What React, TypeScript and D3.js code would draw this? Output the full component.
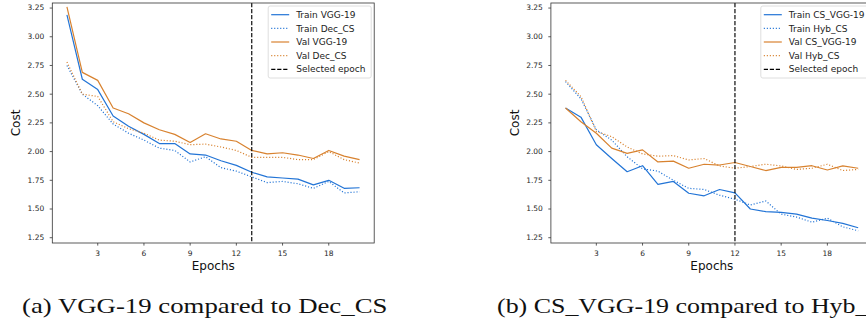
import React from 'react';
import * as d3 from 'd3';

// epochs 1..20
const epochs = [1, 2, 3, 4, 5, 6, 7, 8, 9, 10, 11, 12, 13, 14, 15, 16, 17, 18, 19, 20];
const xTicks = [3, 6, 9, 12, 15, 18];
const yTicks = [1.25, 1.5, 1.75, 2.0, 2.25, 2.5, 2.75, 3.0, 3.25];

// (a) VGG-19 vs Dec_CS
const trainVgg = [3.19, 2.63, 2.54, 2.31, 2.22, 2.15, 2.07, 2.07, 1.98, 1.97, 1.92, 1.88, 1.82, 1.78, 1.77, 1.76, 1.71, 1.75, 1.68, 1.685];
const trainDec = [2.75, 2.5, 2.4, 2.24, 2.16, 2.1, 2.03, 2.01, 1.91, 1.955, 1.86, 1.83, 1.78, 1.73, 1.74, 1.72, 1.68, 1.74, 1.64, 1.65];
const valVgg = [3.26, 2.69, 2.62, 2.38, 2.33, 2.25, 2.19, 2.15, 2.08, 2.155, 2.11, 2.09, 2.01, 1.98, 1.99, 1.97, 1.94, 2.01, 1.96, 1.93];
const valDec = [2.78, 2.5, 2.48, 2.26, 2.2, 2.16, 2.1, 2.09, 2.06, 2.065, 2.04, 2.01, 1.95, 1.95, 1.95, 1.93, 1.93, 2.0, 1.93, 1.9];

// (b) CS_VGG-19 vs Hyb_CS
const trainCsVgg = [2.38, 2.3, 2.06, 1.94, 1.825, 1.877, 1.715, 1.74, 1.637, 1.615, 1.67, 1.64, 1.5, 1.477, 1.47, 1.455, 1.42, 1.4, 1.375, 1.337];
const trainHyb = [2.61, 2.46, 2.19, 2.1, 1.955, 1.85, 1.83, 1.75, 1.68, 1.67, 1.62, 1.585, 1.535, 1.57, 1.455, 1.43, 1.385, 1.42, 1.345, 1.31];
const valCsVgg = [2.38, 2.26, 2.16, 2.03, 1.985, 2.015, 1.91, 1.917, 1.855, 1.89, 1.883, 1.905, 1.87, 1.835, 1.863, 1.863, 1.877, 1.84, 1.875, 1.855];
const valHyb = [2.62, 2.48, 2.175, 2.13, 2.04, 1.98, 1.96, 1.965, 1.927, 1.94, 1.875, 1.855, 1.87, 1.89, 1.875, 1.845, 1.855, 1.89, 1.835, 1.845];

const BLUE = '#2274d6';
const ORANGE = '#d8822f';
const DOT = '1.1,1.9';
const DASH = '4.2,1.8';

const sans = 'DejaVu Sans, sans-serif';

const yScale = d3.scaleLinear().domain([1.204, 3.294]).range([243, 3]);

type Series = { label: string; values: number[]; color: string; dash?: string };

const Panel = ({ id, x0, series, selected, caption, captionX, legendWidth }: {
  id: string; x0: number; series: Series[]; selected: number; caption: string; captionX: number; legendWidth: number;
}) => {
  const x = d3.scaleLinear().domain([0.05, 20.95]).range([x0, x0 + 321.9]);
  const [left, right] = x.range();
  const [bottom, top] = yScale.range();
  const line = d3.line<number>()
    .x((_, i) => x(epochs[i]))
    .y(d => yScale(d));

  const legendItems = [
    ...series,
    { label: 'Selected epoch', values: [], color: '#000', dash: DASH },
  ];
  const lgRight = right - 3;
  const lgLeft = lgRight - legendWidth;
  const rowY = (i: number) => 14.7 + i * 13.65;

  return (
    <g>
      <defs>
        <clipPath id={`clip-${id}`}>
          <rect x={left} y={top} width={right - left} height={bottom - top} />
        </clipPath>
      </defs>
      <g clipPath={`url(#clip-${id})`}>
        {series.map(s => (
          <path key={s.label} d={line(s.values) || ''} fill="none" stroke={s.color}
            strokeWidth={1.2} strokeDasharray={s.dash} strokeLinejoin="round" />
        ))}
        <line x1={x(selected)} x2={x(selected)} y1={top} y2={bottom}
          stroke="#000" strokeWidth={1.15} strokeDasharray={DASH} />
      </g>
      {/* spines */}
      <rect x={left} y={top} width={right - left} height={bottom - top}
        fill="none" stroke="#333" strokeWidth={0.8} />
      {/* x ticks */}
      {xTicks.map(t => (
        <g key={t} transform={`translate(${x(t)},${bottom})`}>
          <line y2={2.6} stroke="#333" strokeWidth={0.8} />
          <text y={13} textAnchor="middle" fontFamily={sans} fontSize={7.5} fill="#262626">{t}</text>
        </g>
      ))}
      {/* y ticks */}
      {yTicks.map(t => (
        <g key={t} transform={`translate(${left},${yScale(t)})`}>
          <line x2={-2.6} stroke="#333" strokeWidth={0.8} />
          <text x={-8} dy="0.32em" textAnchor="end" fontFamily={sans} fontSize={7.5} fill="#262626">{t.toFixed(2)}</text>
        </g>
      ))}
      <text x={(left + right) / 2} y={270} textAnchor="middle" fontFamily={sans} fontSize={12} fill="#111">Epochs</text>
      <text transform={`translate(${left - 32},${(top + bottom) / 2}) rotate(-90)`} textAnchor="middle"
        fontFamily={sans} fontSize={12} fill="#111">Cost</text>
      {/* legend */}
      <rect x={lgLeft} y={6} width={legendWidth} height={72} rx={2} fill="#fff" fillOpacity={0.8}
        stroke="#d6d6d6" strokeWidth={0.8} />
      {legendItems.map((s, i) => (
        <g key={s.label}>
          <line x1={lgLeft + 3} x2={lgLeft + 21} y1={rowY(i)} y2={rowY(i)} stroke={s.color}
            strokeWidth={1.2} strokeDasharray={s.dash} />
          <text x={lgLeft + 28} y={rowY(i)} dy="0.35em" fontFamily={sans} fontSize={9} fill="#222">{s.label}</text>
        </g>
      ))}
      <text x={captionX} y={312.7} fontFamily="Liberation Serif, serif" fontSize={22} fill="#111"
        textLength={caption.length * 12.6} lengthAdjust="spacingAndGlyphs">{caption}</text>
    </g>
  );
};

const App = () => (
  <svg width={866} height={324} style={{ position: 'absolute', left: 0, top: 0, background: '#fff' }}>
    <Panel id="a" x0={52.3} selected={13} captionX={22} legendWidth={103}
      caption="(a) VGG-19 compared to Dec_CS"
      series={[
        { label: 'Train VGG-19', values: trainVgg, color: BLUE },
        { label: 'Train Dec_CS', values: trainDec, color: BLUE, dash: DOT },
        { label: 'Val VGG-19', values: valVgg, color: ORANGE },
        { label: 'Val Dec_CS', values: valDec, color: ORANGE, dash: DOT },
      ]} />
    <Panel id="b" x0={550.9} selected={12} captionX={497} legendWidth={109}
      caption="(b) CS_VGG-19 compared to Hyb_CS"
      series={[
        { label: 'Train CS_VGG-19', values: trainCsVgg, color: BLUE },
        { label: 'Train Hyb_CS', values: trainHyb, color: BLUE, dash: DOT },
        { label: 'Val CS_VGG-19', values: valCsVgg, color: ORANGE },
        { label: 'Val Hyb_CS', values: valHyb, color: ORANGE, dash: DOT },
      ]} />
  </svg>
);

export default App;
